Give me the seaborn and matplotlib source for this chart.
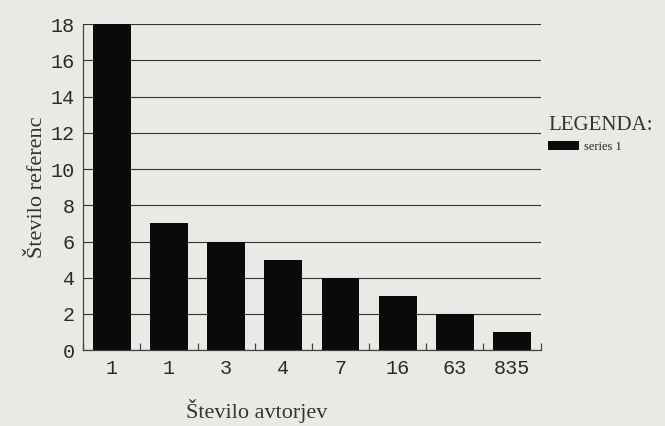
import matplotlib
matplotlib.use("Agg")
import matplotlib.pyplot as plt
import seaborn as sns
import pandas as pd

# data
authors = ["1", "1", "3", "4", "7", "16", "63", "835"]
references = [18, 7, 6, 5, 4, 3, 2, 1]

df = pd.DataFrame({"pos": range(len(authors)), "refs": references})

sns.set_style("white")
bg = "#e9e9e6"

fig = plt.figure(figsize=(6.65, 4.26), dpi=100, facecolor=bg)
ax = fig.add_axes([0.125, 0.178, 0.688, 0.765])
ax.set_facecolor(bg)

sns.barplot(data=df, x="pos", y="refs", color="#0a0a0a", width=0.66,
            label="series 1", ax=ax, zorder=3, saturation=1,
            edgecolor="#0a0a0a", linewidth=0)

ax.set_ylim(0, 18)
ax.set_yticks(range(0, 19, 2))
ax.yaxis.grid(True, color="#333333", linewidth=0.8, zorder=0)
ax.set_xlim(-0.5, len(authors) - 0.5)
ax.set_xticks(range(len(authors)))
ax.set_xticklabels(authors)
ax.set_xticks([i + 0.5 for i in range(-1, len(authors))], minor=True)
ax.tick_params(axis="x", which="major", length=0, pad=6)
ax.tick_params(axis="x", which="minor", length=5, width=0.9, direction="in",
               color="#444444", bottom=True)
ax.tick_params(axis="y", length=4, direction="out", color="#444444", pad=2)

for lab in ax.get_xticklabels() + ax.get_yticklabels():
    lab.set_family("Liberation Mono")
    lab.set_fontsize(14.5)
    lab.set_color("#2a2a2a")

for s in ["top", "right"]:
    ax.spines[s].set_visible(False)
for s in ["left", "bottom"]:
    ax.spines[s].set_color("#444444")
    ax.spines[s].set_linewidth(0.9)

ax.set_xlabel("Število avtorjev", family="Liberation Serif", fontsize=16,
              color="#333333")
ax.xaxis.set_label_coords(0.38, -0.15)
ax.set_ylabel("Število referenc", family="Liberation Serif", fontsize=16,
              color="#333333")
ax.yaxis.set_label_coords(-0.08, 0.5)

leg = ax.legend(title="LEGENDA:", loc="upper left", bbox_to_anchor=(1.005, 0.735),
                frameon=False, prop={"family": "Liberation Serif", "size": 9},
                handlelength=2.5, handleheight=0.8, borderaxespad=0, handletextpad=0.4)
leg.get_title().set_family("Liberation Serif")
leg.get_title().set_fontsize(15)
leg.get_title().set_color("#333333")
leg._legend_box.align = "left"

fig.savefig("out.png", dpi=100, facecolor=bg)
